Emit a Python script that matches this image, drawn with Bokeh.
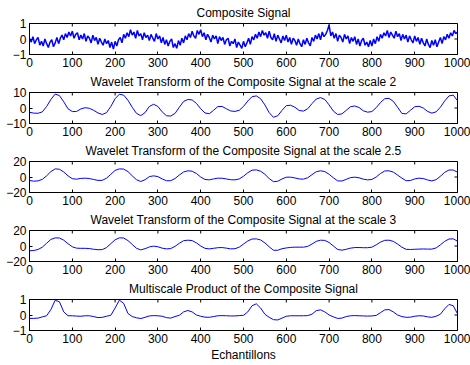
from bokeh.plotting import figure
from bokeh.layouts import column
from bokeh.models import FixedTicker, Range1d
from bokeh.embed import file_html
from bokeh.resources import INLINE

# sample index axis
x_coarse = list(range(0, 1001, 10))
x_ticks = list(range(0, 1001, 100))

# composite signal (noisy), every 4 samples
composite = [
    0.05, -0.20, 0.15, -0.30, -0.05, 0.10, -0.40, -0.15, -0.45, 0.00, -0.30, -0.55, -0.20,
    -0.05, -0.50, -0.25, 0.10, -0.30, 0.05, 0.25, -0.05, 0.35, 0.10, 0.45, 0.20,
    0.50, 0.05, 0.30, 0.40, -0.05, 0.25, 0.00, 0.35, -0.15, 0.20, 0.05, -0.25, 0.25,
    -0.10, 0.10, -0.35, 0.05, -0.20, -0.40, 0.00, -0.30, -0.10, -0.55, -0.20, -0.65,
    -0.15, -0.45, -0.05, 0.10, -0.25, 0.30, 0.05, 0.40, 0.15, 0.60, 0.25, 0.45, 0.05,
    0.55, 0.20, 0.35, -0.05, 0.40, 0.10, 0.25, -0.10, 0.30, 0.05, -0.15, 0.35,
    0.00, 0.20, -0.25, 0.10, -0.35, -0.05, -0.45, -0.15, 0.00, -0.55, -0.30, -0.60, -0.10,
    -0.40, 0.05, -0.25, 0.20, -0.05, 0.35, 0.10, 0.50, 0.20, 0.05, 0.55, 0.30,
    0.60, 0.15, 0.40, -0.05, 0.30, 0.10, -0.20, 0.25, 0.00, 0.20, -0.30, 0.15, -0.10,
    0.10, -0.35, -0.05, 0.05, -0.45, -0.15, -0.30, 0.00, -0.55, -0.20, -0.40, -0.60,
    -0.15, -0.50, -0.25, 0.05, -0.35, 0.15, -0.05, 0.30, 0.05, 0.45, 0.15, 0.55, 0.25,
    0.40, 0.05, 0.50, 0.10, -0.05, 0.35, -0.15, 0.25, 0.00, -0.25, 0.20, -0.10,
    0.25, -0.20, 0.10, -0.35, 0.05, -0.10, -0.40, 0.00, -0.30, -0.50, -0.05, -0.35, 0.05,
    -0.25, -0.45, 0.10, -0.15, 0.25, 0.00, 0.35, -0.05, 0.45, 0.15, 0.30, 0.55,
    0.90, 0.20, 0.45, 0.05, 0.35, -0.15, 0.25, 0.10, -0.20, 0.30, 0.00, 0.20, -0.30,
    0.10, -0.15, 0.15, -0.35, 0.00, -0.45, -0.10, 0.05, -0.40, -0.20, -0.50, -0.10,
    -0.45, 0.00, -0.30, 0.15, -0.15, 0.30, 0.05, 0.40, 0.20, 0.55, 0.10, 0.45, 0.25,
    0.05, 0.50, 0.15, 0.35, -0.10, 0.30, 0.00, 0.25, -0.20, 0.20, -0.05, -0.25,
    0.20, -0.15, 0.10, -0.35, 0.05, -0.25, -0.45, 0.00, -0.35, -0.55, -0.10, -0.40, -0.05,
    -0.50, -0.20, 0.10, -0.30, 0.15, -0.05, 0.30, 0.05, 0.40, 0.20, 0.55, 0.35,
    0.45,
]
x_composite = [4 * i for i in range(len(composite))]

# wavelet transform at scale 2, every 10 samples
wt_scale2 = [
    -2.8, -3.3, -3.4, -2.5, 1.0, 5.5, 9.0, 8.0, 4.0, -0.5,
    -2.3, -2.2, -0.6, 0.2, -0.2, -1.5, -3.2, -4.2, -3.0, 1.0,
    6.0, 8.9, 8.3, 5.0, 0.5, -3.5, -4.9, -3.0, 1.0, 2.4,
    1.0, -2.5, -5.0, -5.2, -3.5, 0.5, 4.2, 5.5, 5.2, 3.0,
    -0.5, -3.2, -3.7, -1.5, 0.9, 1.0, -0.5, -1.9, -2.2, -1.5,
    1.0, 4.5, 7.3, 7.8, 6.0, 2.0, -3.0, -6.0, -5.0, -1.5,
    1.5, 1.8, 0.5, -1.6, -2.0, -0.5, 2.8, 5.8, 6.7, 5.5,
    2.0, -2.0, -4.2, -3.8, -1.5, 0.8, 1.3, 0.3, -1.8, -2.7,
    -2.3, 0.2, 3.5, 6.0, 6.2, 4.3, 0.5, -3.5, -3.8, -1.5,
    0.8, 1.1, 0.0, -2.2, -3.3, -2.5, 0.5, 4.5, 7.8, 8.3,
    4.7,
]

# wavelet transform at scale 2.5, every 10 samples
wt_scale25 = [
    -4.5, -5.4, -5.0, -3.0, 1.5, 7.0, 10.5, 10.0, 6.5, 1.5,
    -2.2, -2.8, -1.8, -1.5, -2.0, -3.2, -4.4, -4.3, -1.5, 3.5,
    8.5, 10.5, 10.2, 7.0, 1.5, -3.5, -5.8, -3.5, 0.5, 1.5,
    0.5, -2.5, -4.8, -4.8, -2.0, 2.5, 6.5, 8.0, 7.5, 4.5,
    0.0, -3.2, -3.7, -2.5, -1.5, -1.6, -2.5, -3.5, -3.7, -2.5,
    1.0, 5.5, 8.8, 9.2, 7.5, 3.5, -2.0, -6.0, -5.5, -2.5,
    -0.3, -0.2, -1.2, -2.5, -2.8, -1.0, 3.0, 6.8, 8.0, 7.0,
    3.5, -1.0, -5.0, -5.2, -3.0, -0.8, -0.2, -1.0, -2.8, -3.7,
    -3.2, 0.0, 4.5, 7.8, 8.0, 6.3, 2.5, -1.5, -4.8, -4.5,
    -2.5, -1.5, -2.0, -3.8, -5.0, -3.5, 1.0, 6.0, 9.0, 9.0,
    6.2,
]

# wavelet transform at scale 3, every 10 samples
wt_scale3 = [
    -6.2, -5.8, -4.5, -1.5, 3.5, 8.5, 10.5, 10.3, 7.5, 3.0,
    -1.0, -2.8, -3.0, -3.0, -3.3, -4.2, -4.8, -4.6, -2.0, 3.0,
    8.0, 10.5, 10.3, 7.0, 2.0, -3.0, -5.0, -3.5, -1.2, -0.2,
    -1.0, -2.8, -3.7, -3.3, -0.5, 3.5, 6.8, 7.5, 7.0, 4.0,
    0.0, -3.0, -3.7, -3.0, -2.2, -2.0, -2.8, -3.7, -3.5, -1.5,
    2.5, 6.5, 9.0, 9.2, 7.8, 4.0, -1.0, -5.5, -5.5, -3.5,
    -2.5, -1.8, -1.5, -1.5, -1.5, -0.5, 2.5, 6.0, 7.5, 7.2,
    4.5, 0.0, -4.5, -5.4, -4.2, -2.8, -2.0, -2.0, -2.2, -2.2,
    -1.5, 1.5, 5.0, 7.3, 7.5, 6.0, 2.5, -1.5, -4.3, -4.5,
    -4.2, -4.0, -3.8, -4.0, -4.0, -2.5, 1.5, 6.0, 9.0, 9.2,
    6.2,
]

# multiscale product, every 10 samples
ms_product = [
    -0.22, -0.22, -0.20, -0.12, -0.05, 0.35, 0.95, 0.85, 0.20, -0.05,
    -0.05, -0.07, -0.08, -0.05, -0.05, -0.10, -0.17, -0.15, -0.08, -0.02,
    0.45, 0.96, 0.75, 0.10, -0.10, -0.18, -0.23, -0.15, -0.06, -0.04,
    -0.05, -0.08, -0.17, -0.20, -0.10, -0.02, 0.20, 0.29, 0.20, 0.00,
    -0.08, -0.14, -0.15, -0.10, -0.05, -0.04, -0.05, -0.06, -0.06, -0.04,
    -0.02, 0.20, 0.60, 0.72, 0.45, 0.05, -0.15, -0.30, -0.32, -0.20,
    -0.08, -0.05, -0.05, -0.05, -0.05, -0.04, 0.05, 0.28, 0.33, 0.20,
    0.00, -0.12, -0.22, -0.20, -0.10, -0.05, -0.04, -0.05, -0.06, -0.07,
    -0.06, -0.03, 0.15, 0.33, 0.35, 0.20, 0.00, -0.10, -0.15, -0.14,
    -0.08, -0.05, -0.06, -0.12, -0.15, -0.08, 0.05, 0.40, 0.68, 0.60,
    0.08,
]

FONT = "Liberation Sans"
FS = "12px"
BLUE = "#0000ff"
X_MIN, X_MAX = 0, 1000

panels = [
    ("Composite Signal", x_composite, composite, (-1, 1), [-1, 0, 1], None, 1.5),
    ("Wavelet Transform of the Composite Signal at the scale 2", x_coarse, wt_scale2,
     (-10, 10), [-10, 0, 10], None, 1.0),
    ("Wavelet Transform of the Composite Signal at the scale 2.5", x_coarse, wt_scale25,
     (-20, 20), [-20, 0, 20], None, 1.0),
    ("Wavelet Transform of the Composite Signal at the scale 3", x_coarse, wt_scale3,
     (-20, 20), [-20, 0, 20], None, 1.0),
    ("Multiscale Product of the Composite Signal", x_coarse, ms_product,
     (-1, 1), [-1, 0, 1], "Echantillons", 1.0),
]


def style_axis(ax, ticks):
    ax.ticker = FixedTicker(ticks=ticks)
    ax.major_tick_in = 3
    ax.major_tick_out = 0
    ax.minor_tick_line_color = None
    ax.axis_line_color = "black"
    ax.major_tick_line_color = "black"
    ax.major_label_text_font = FONT
    ax.major_label_text_font_size = FS
    ax.major_label_text_color = "black"
    ax.major_label_standoff = 3


figs = []
for title, xs, ys, yr, yticks, xlabel, lw in panels:
    p = figure(frame_width=428, frame_height=31, output_backend="svg",
               toolbar_location=None,
               x_range=Range1d(X_MIN, X_MAX), y_range=Range1d(*yr),
               min_border_left=29, min_border_right=13,
               min_border_top=0, min_border_bottom=0)
    p.title.text = title
    p.title.align = "center"
    p.title.text_font = FONT
    p.title.text_font_size = FS
    p.title.text_font_style = "normal"
    p.title.text_color = "black"
    p.title.standoff = 7
    p.grid.visible = False
    p.outline_line_color = "black"
    p.outline_line_alpha = 1.0
    p.background_fill_color = "white"
    p.border_fill_color = "white"

    style_axis(p.xaxis[0], x_ticks)
    style_axis(p.yaxis[0], yticks)
    if xlabel:
        p.xaxis[0].axis_label = xlabel
        p.xaxis[0].axis_label_text_font = FONT
        p.xaxis[0].axis_label_text_font_size = FS
        p.xaxis[0].axis_label_text_font_style = "normal"
        p.xaxis[0].axis_label_text_color = "black"
        p.xaxis[0].axis_label_standoff = 2

    # inward tick marks on the top and right edges of the box
    y_lo, y_hi = yr
    tick_dy = (y_hi - y_lo) * 3.0 / 31.0
    tick_dx = (X_MAX - X_MIN) * 3.0 / 428.0
    p.segment(x0=x_ticks, y0=[y_hi] * len(x_ticks), x1=x_ticks,
              y1=[y_hi - tick_dy] * len(x_ticks), line_color="black", line_width=1)
    p.segment(x0=[X_MAX] * len(yticks), y0=yticks, x1=[X_MAX - tick_dx] * len(yticks),
              y1=yticks, line_color="black", line_width=1)

    p.line(xs, ys, line_color=BLUE, line_width=lw)
    figs.append(p)

layout = column(*figs, spacing=0)
open("out.html", "w").write(file_html(layout, INLINE))
